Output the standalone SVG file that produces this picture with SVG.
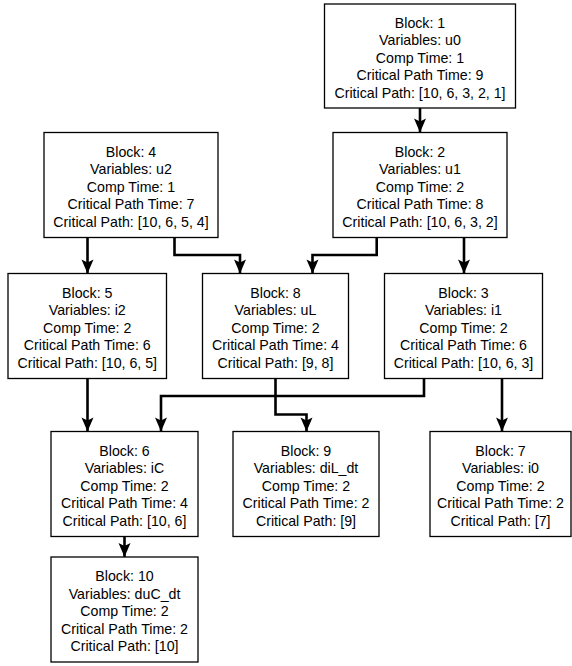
<svg xmlns="http://www.w3.org/2000/svg" width="572" height="666" viewBox="0 0 572 666">
<style>
.box{fill:#fff;stroke:#000;stroke-width:1.3}
text{font-family:"Liberation Sans",Arial,sans-serif;font-size:14.2px;fill:#000;text-anchor:middle}
.edge{fill:none;stroke:#000;stroke-width:2.6;marker-end:url(#ah)}
</style>
<defs>
<marker id="ah" markerUnits="userSpaceOnUse" markerWidth="16" markerHeight="14" viewBox="-15 -7 16 14" refX="0" refY="0" orient="auto">
<path d="M0,0 L-14,-6 L-11,0 L-14,6 Z" fill="#000"/>
</marker>
</defs>
<rect width="572" height="666" fill="#fff"/>
<g id="connectors">
<path class="edge" d="M420,108 V132.5"/>
<path class="edge" d="M87.5,237.5 V273.5"/>
<path class="edge" d="M174.5,237.5 V255 H240 V273.5"/>
<path class="edge" d="M376.7,237.5 V255 H312.5 V273.5"/>
<path class="edge" d="M464,237.5 V273.5"/>
<path class="edge" d="M87.5,378.5 V431.5"/>
<path class="edge" d="M424,378.5 V396 H161 V431.5"/>
<path class="edge" d="M275.5,378.5 V414.5 H306.5 V431.5"/>
<path class="edge" d="M502,378.5 V431.5"/>
<path class="edge" d="M124.5,536.5 V557"/>
</g>
<g id="node1">
<rect class="box" x="324.5" y="4" width="191" height="104"/>
<text x="420" y="27.5">Block: 1</text>
<text x="420" y="45">Variables: u0</text>
<text x="420" y="62.5">Comp Time: 1</text>
<text x="420" y="80">Critical Path Time: 9</text>
<text x="420" y="97.5">Critical Path: [10, 6, 3, 2, 1]</text>
</g>
<g id="node2">
<rect class="box" x="333" y="132.5" width="174" height="105"/>
<text x="420" y="156.5">Block: 2</text>
<text x="420" y="174">Variables: u1</text>
<text x="420" y="191.5">Comp Time: 2</text>
<text x="420" y="209">Critical Path Time: 8</text>
<text x="420" y="226.5">Critical Path: [10, 6, 3, 2]</text>
</g>
<g id="node4">
<rect class="box" x="44" y="132.5" width="174" height="105"/>
<text x="131" y="156.5">Block: 4</text>
<text x="131" y="174">Variables: u2</text>
<text x="131" y="191.5">Comp Time: 1</text>
<text x="131" y="209">Critical Path Time: 7</text>
<text x="131" y="226.5">Critical Path: [10, 6, 5, 4]</text>
</g>
<g id="node5">
<rect class="box" x="8" y="273.5" width="158.5" height="105"/>
<text x="87.25" y="297.5">Block: 5</text>
<text x="87.25" y="315">Variables: i2</text>
<text x="87.25" y="332.5">Comp Time: 2</text>
<text x="87.25" y="350">Critical Path Time: 6</text>
<text x="87.25" y="367.5">Critical Path: [10, 6, 5]</text>
</g>
<g id="node8">
<rect class="box" x="202.5" y="273.5" width="146" height="105"/>
<text x="275.5" y="297.5">Block: 8</text>
<text x="275.5" y="315">Variables: uL</text>
<text x="275.5" y="332.5">Comp Time: 2</text>
<text x="275.5" y="350">Critical Path Time: 4</text>
<text x="275.5" y="367.5">Critical Path: [9, 8]</text>
</g>
<g id="node3">
<rect class="box" x="384.5" y="273.5" width="158" height="105"/>
<text x="463.5" y="297.5">Block: 3</text>
<text x="463.5" y="315">Variables: i1</text>
<text x="463.5" y="332.5">Comp Time: 2</text>
<text x="463.5" y="350">Critical Path Time: 6</text>
<text x="463.5" y="367.5">Critical Path: [10, 6, 3]</text>
</g>
<g id="node6">
<rect class="box" x="51" y="431.5" width="147" height="105"/>
<text x="124.5" y="455.5">Block: 6</text>
<text x="124.5" y="473">Variables: iC</text>
<text x="124.5" y="490.5">Comp Time: 2</text>
<text x="124.5" y="508">Critical Path Time: 4</text>
<text x="124.5" y="525.5">Critical Path: [10, 6]</text>
</g>
<g id="node9">
<rect class="box" x="233" y="431.5" width="146" height="105"/>
<text x="306" y="455.5">Block: 9</text>
<text x="306" y="473">Variables: diL_dt</text>
<text x="306" y="490.5">Comp Time: 2</text>
<text x="306" y="508">Critical Path Time: 2</text>
<text x="306" y="525.5">Critical Path: [9]</text>
</g>
<g id="node7">
<rect class="box" x="430" y="431.5" width="141" height="105"/>
<text x="500.5" y="455.5">Block: 7</text>
<text x="500.5" y="473">Variables: i0</text>
<text x="500.5" y="490.5">Comp Time: 2</text>
<text x="500.5" y="508">Critical Path Time: 2</text>
<text x="500.5" y="525.5">Critical Path: [7]</text>
</g>
<g id="node10">
<rect class="box" x="51" y="557" width="147" height="105"/>
<text x="124.5" y="581">Block: 10</text>
<text x="124.5" y="598.5">Variables: duC_dt</text>
<text x="124.5" y="616">Comp Time: 2</text>
<text x="124.5" y="633.5">Critical Path Time: 2</text>
<text x="124.5" y="651">Critical Path: [10]</text>
</g>
</svg>
